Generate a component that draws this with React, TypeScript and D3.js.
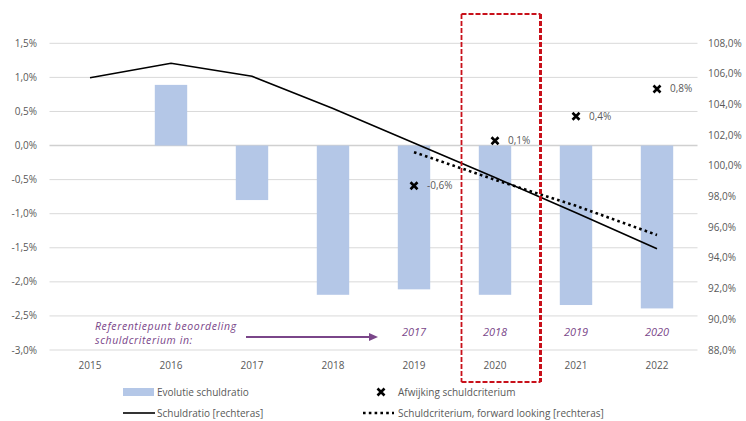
import React from 'react';
import * as d3 from 'd3';

// chart values
const years = ['2015', '2016', '2017', '2018', '2019', '2020', '2021', '2022'];
const evolutieSchuldratio = [null, 0.89, -0.8, -2.19, -2.11, -2.19, -2.34, -2.39];
const schuldratio = [105.75, 106.7, 105.85, 103.75, 101.5, 99.25, 96.95, 94.6];
const forwardYears = ['2019', '2020', '2021', '2022'];
const schuldcriterium = [100.9, 99.1, 97.4, 95.5];
const afwijking = [-0.59, 0.07, 0.43, 0.83];
const referentieJaren = ['2017', '2018', '2019', '2020'];
const leftTicks = [1.5, 1, 0.5, 0, -0.5, -1, -1.5, -2, -2.5, -3];
const rightTicks = [108, 106, 104, 102, 100, 98, 96, 94, 92, 90, 88];
const highlightYear = '2020';

const W = 746, H = 421;
const plot = { left: 49.5, right: 697.5, top: 43.3, bottom: 350 };
const grey = '#595959';
const purple = '#7a4689';
const red = '#c8101a';
const font = '"Open Sans", "Liberation Sans", sans-serif';

const pct = (v: number) => v.toFixed(1).replace('.', ',') + '%';

export default function App() {
  const x = d3.scaleBand<string>().domain(years).range([plot.left, plot.right]).paddingInner(0.6).paddingOuter(0.3);
  const xc = d3.scaleBand<string>().domain(years).range([plot.left, plot.right]);
  const cx = (y: string) => (xc(y) as number) + xc.bandwidth() / 2;
  const yL = d3.scaleLinear().domain([-3, 1.5]).range([plot.bottom, plot.top]);
  const yR = d3.scaleLinear().domain([88, 108]).range([plot.bottom, plot.top]);

  const line = d3.line<[string, number]>().x(d => cx(d[0])).y(d => yR(d[1]));
  const ratioPath = line(years.map((y, i) => [y, schuldratio[i]]));
  const critPath = line(forwardYears.map((y, i) => [y, schuldcriterium[i]]));

  const hx0 = (xc(highlightYear) as number) + 7;
  const hx1 = (xc(highlightYear) as number) + xc.bandwidth() + 5;
  const hy0 = 14, hy1 = 382;

  const cross = (px: number, py: number, k: string | number) => (
    <path key={k} d={`M${px - 3.5},${py - 3.5}L${px + 3.5},${py + 3.5}M${px - 3.5},${py + 3.5}L${px + 3.5},${py - 3.5}`}
      stroke="#000" strokeWidth={2.6} />
  );

  return (
    <svg width={W} height={H} style={{ position: 'absolute', left: 0, top: 0, background: '#fff' }} fontFamily={font}>
      {/* gridlines */}
      {leftTicks.map(t => (
        <line key={t} x1={plot.left} x2={plot.right} y1={yL(t)} y2={yL(t)}
          stroke={t === 0 ? '#d0d0d0' : '#d9d9d9'} strokeWidth={t === 0 ? 1.6 : 1} />
      ))}
      {/* bars */}
      {years.map((y, i) => {
        const v = evolutieSchuldratio[i];
        if (v == null) return null;
        return <rect key={y} x={x(y)} width={x.bandwidth()} y={yL(Math.max(0, v))}
          height={Math.abs(yL(v) - yL(0))} fill="#b4c7e7" />;
      })}
      {/* lines */}
      <path d={ratioPath || ''} fill="none" stroke="#000" strokeWidth={1.6} />
      <path d={critPath || ''} fill="none" stroke="#000" strokeWidth={2.6} strokeDasharray="2.6,3.2" />
      {/* afwijking markers */}
      {forwardYears.map((y, i) => (
        <g key={y}>
          {cross(cx(y), yL(afwijking[i]), 'c' + y)}
          <text x={cx(y) + 13} y={yL(afwijking[i])} dy="0.35em" fontSize={10} fill={grey}>{pct(afwijking[i])}</text>
        </g>
      ))}
      {/* axes labels */}
      {leftTicks.map(t => (
        <text key={t} x={37} y={yL(t)} dy="0.35em" textAnchor="end" fontSize={10} fill={grey}>{pct(t)}</text>
      ))}
      {rightTicks.map(t => (
        <text key={t} x={708} y={yR(t)} dy="0.35em" fontSize={10} fill={grey}>{pct(t)}</text>
      ))}
      {years.map(y => (
        <text key={y} x={cx(y)} y={365} dy="0.35em" textAnchor="middle" fontSize={10} fill={grey}>{y}</text>
      ))}
      {/* reference annotation */}
      <text x={95} y={330} fontSize={10.5} fontStyle="italic" fill={purple} letterSpacing={0.6}>Referentiepunt beoordeling</text>
      <text x={95} y={344} fontSize={10.5} fontStyle="italic" fill={purple} letterSpacing={0.6}>schuldcriterium in:</text>
      <line x1={246} x2={370} y1={337} y2={337} stroke={purple} strokeWidth={2.2} />
      <path d="M369,333L378,337L369,341Z" fill={purple} />
      {forwardYears.map((y, i) => (
        <text key={y} x={cx(y)} y={336} textAnchor="middle" fontSize={11} fontStyle="italic" fill={purple}>{referentieJaren[i]}</text>
      ))}
      {/* highlight box */}
      <g fill="none" stroke={red} strokeDasharray="5,2">
        <line x1={hx0} x2={hx1} y1={hy0} y2={hy0} strokeWidth={2} />
        <line x1={hx0} x2={hx0} y1={hy0} y2={hy1} strokeWidth={1.8} />
        <line x1={hx0} x2={hx1} y1={hy1} y2={hy1} strokeWidth={2} />
        <line x1={hx1} x2={hx1} y1={hy0} y2={hy1} strokeWidth={3} />
      </g>
      {/* legend */}
      <rect x={123} y={388} width={31} height={8} fill="#b4c7e7" />
      <text x={157} y={392} dy="0.35em" fontSize={10} fill={grey}>Evolutie schuldratio</text>
      {cross(381, 392, 'legx')}
      <text x={398} y={392} dy="0.35em" fontSize={10} fill={grey}>Afwijking schuldcriterium</text>
      <line x1={123} x2={155} y1={413} y2={413} stroke="#000" strokeWidth={1.6} />
      <text x={157} y={413} dy="0.35em" fontSize={10} fill={grey}>Schuldratio [rechteras]</text>
      <line x1={363} x2={394} y1={413} y2={413} stroke="#000" strokeWidth={2.6} strokeDasharray="2.6,3.2" />
      <text x={398} y={413} dy="0.35em" fontSize={10} fill={grey}>Schuldcriterium, forward looking [rechteras]</text>
    </svg>
  );
}
